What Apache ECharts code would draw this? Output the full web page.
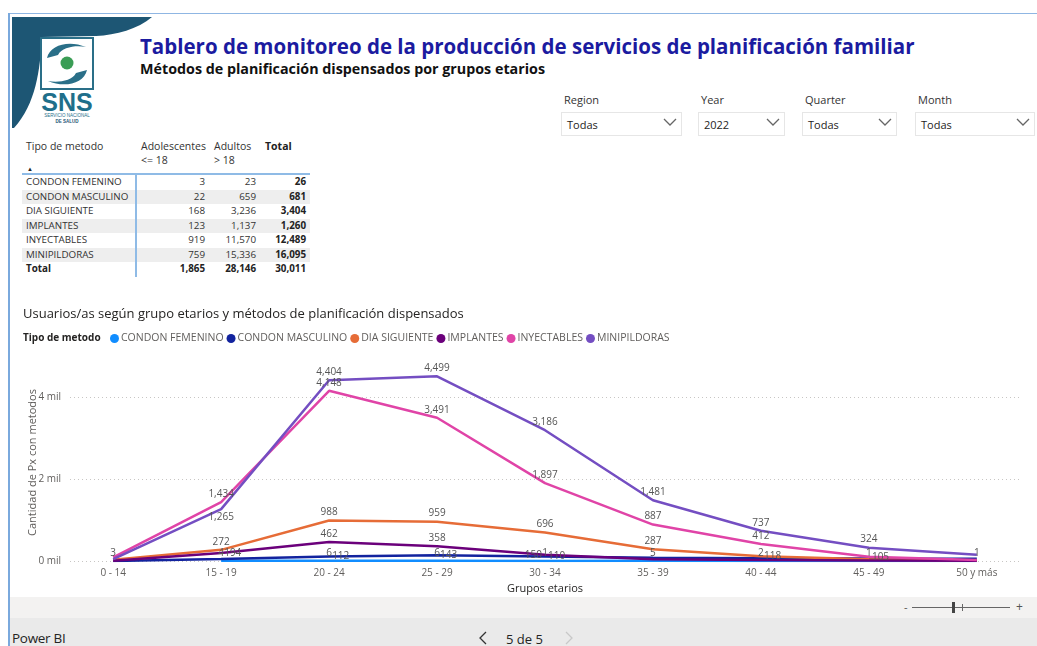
<!DOCTYPE html>
<html>
<head>
<meta charset="utf-8">
<script src="https://cdn.jsdelivr.net/npm/echarts@6/dist/echarts.min.js"></script>
<style>
  body { margin: 0; width: 1037px; height: 646px; position: relative; overflow: hidden; background: #fff; font-family: "Open Sans", sans-serif; color: #252423; }
  .abs { position: absolute; }
  #lineChart { position: absolute; left: 10px; top: 300px; width: 1027px; height: 297px; }
</style>
</head>
<body>
<!-- marco del reporte -->
<div class="abs" style="left:8px;top:13px;width:1029px;height:1px;background:#8fb6e3"></div>
<div class="abs" style="left:8px;top:13px;width:2px;height:633px;background:#7aa9dd"></div>
<div class="abs" style="left:10px;top:597px;width:1027px;height:21px;background:#f3f2f1"></div>
<div class="abs" style="left:10px;top:618px;width:1027px;height:28px;background:#eaeaea"></div>

<!-- logo SNS -->
<svg class="abs" style="left:0;top:0" width="160" height="135">
  <path d="M12 17 L152 17 C138 29 116 35 96 36 L42 37 C40 70 36 104 14 128 L12 128 Z" fill="#1d5674"/>
  <rect x="41" y="38" width="52" height="51" fill="#fff" stroke="#2a6f88" stroke-width="2"/>
  <path d="M47 58 C50 44 70 40 86 47 C76 45 62 47 58 55 Z" fill="#2a6f88"/>
  <path d="M87 70 C84 84 64 88 48 81 C58 83 72 81 76 73 Z" fill="#2a6f88"/>
  <circle cx="67" cy="63" r="6.5" fill="#3a9d55"/>
  <text x="67" y="111" text-anchor="middle" font-family="Liberation Sans" font-weight="bold" font-size="25" fill="#1f6f8b">SNS</text>
  <text x="67" y="117" text-anchor="middle" font-family="Liberation Sans" font-size="4.5" fill="#1f6f8b">SERVICIO NACIONAL</text>
  <text x="67" y="123" text-anchor="middle" font-family="Liberation Sans" font-weight="bold" font-size="4.5" fill="#1d5674">DE SALUD</text>
</svg>

<div id="lineChart"></div>

<script>
// grupos etarios (eje X)
const grupos = ["0 - 14", "15 - 19", "20 - 24", "25 - 29", "30 - 34", "35 - 39", "40 - 44", "45 - 49", "50 y más"];
const metodos = ["CONDON FEMENINO", "CONDON MASCULINO", "DIA SIGUIENTE", "IMPLANTES", "INYECTABLES", "MINIPILDORAS"];

// valores por grupo etario
const condonFemenino = [null, 4, 6, 6, 1, 5, 2, 1, 1];
const condonMasculino = [3, 50, 112, 143, 110, 80, 70, 60, 53];
const diaSiguiente = [30, 272, 988, 959, 696, 287, 118, 45, 9];
const implantes = [8, 194, 462, 358, 150, 45, 25, 13, 5];
const inyectables = [90, 1434, 4148, 3491, 1897, 887, 412, 105, 25];
const minipildoras = [45, 1265, 4404, 4499, 3186, 1481, 737, 324, 154];

// tabla resumen
const adolescentes = [3, 22, 168, 123, 919, 759];
const adultos = [23, 659, 3236, 1137, 11570, 15336];
const totales = [26, 681, 3404, 1260, 12489, 16095];
const filaTotal = [1865, 28146, 30011];

// eje Y
const yTicks = [0, 2000, 4000];

// filtros
const slicerLabels = ["Region", "Year", "Quarter", "Month"];
const slicerValues = ["Todas", "2022", "Todas", "Todas"];

const colores = ["#118DFF", "#12239E", "#E66C37", "#6B007B", "#E044A7", "#744EC2"];
// donde se muestra cada etiqueta (null = oculta, como hace Power BI)
const etiquetas = [
  [null, "top", "top", "top", "top", "top", "top", "top", "top"],
  ["top", null, "right", "right", "right", null, null, null, null],
  [null, "top", "top", "top", "top", "top", "right", null, null],
  [null, "right", "top", "top", "left", null, null, null, null],
  [null, "top", "top", "top", "top", "top", "top", "right", null],
  [null, "bottom", "top", "top", "top", "top", "top", "top", null]
];

const fmt = (n) => n.toLocaleString("en-US");

function put(text, x, y, css, alignRight) {
  const d = document.createElement("div");
  d.textContent = text;
  d.style.cssText = "position:absolute;white-space:nowrap;line-height:16px;top:" + (y - 8) + "px;" + (css || "");
  if (alignRight) d.style.right = (1037 - x) + "px";
  else d.style.left = x + "px";
  document.body.appendChild(d);
  return d;
}
function box(x, y, w, h, css) {
  const d = document.createElement("div");
  d.style.cssText = "position:absolute;left:" + x + "px;top:" + y + "px;width:" + w + "px;height:" + h + "px;" + (css || "");
  document.body.appendChild(d);
  return d;
}
function chevron(x, y, pts, color) {
  const ch = document.createElementNS("http://www.w3.org/2000/svg", "svg");
  ch.setAttribute("width", "14"); ch.setAttribute("height", "16");
  ch.style.cssText = "position:absolute;left:" + x + "px;top:" + y + "px";
  ch.innerHTML = '<polyline points="' + pts + '" fill="none" stroke="' + color + '" stroke-width="1.3"/>';
  document.body.appendChild(ch);
}

// titulos
put("Tablero de monitoreo de la producción de servicios de planificación familiar", 140, 46,
  "font-size:20.5px;font-weight:bold;color:#1b1ba0");
put("Métodos de planificación dispensados por grupos etarios", 140, 69,
  "font-size:14.3px;font-weight:bold;color:#111");

// filtros
const slicerX = [[561, 682], [698, 785], [802, 897], [915, 1035]];
slicerLabels.forEach((lab, i) => {
  const [x0, x1] = slicerX[i];
  put(lab, x0 + 3, 100, "font-size:11px;color:#333");
  box(x0, 112, x1 - x0, 24, "border:1px solid #e6e6e6;box-sizing:border-box");
  put(slicerValues[i], x0 + 6, 125, "font-size:11px;color:#252423");
  chevron(x1 - 19, 117, "1,2 7,8 13,2", "#666");
});

// tabla
const tcss = "font-size:9.8px;color:#333";
put("Tipo de metodo", 26, 146, "font-size:10.5px;color:#333");
put("Adolescentes", 141, 146, "font-size:10.5px;color:#333");
put("<= 18", 141, 160, "font-size:10.5px;color:#333");
put("Adultos", 214, 146, "font-size:10.5px;color:#333");
put("> 18", 214, 160, "font-size:10.5px;color:#333");
put("Total", 265, 146, "font-size:10.5px;font-weight:bold;color:#222");
put("▲", 27, 169, "font-size:6px;color:#222");
metodos.forEach((m, i) => {
  const y = 182 + i * 14.5;
  if (i % 2 === 1) box(22, y - 7, 288, 14, "background:#eeeeee");
  put(m, 26, y, tcss);
  put(fmt(adolescentes[i]), 205, y, tcss, true);
  put(fmt(adultos[i]), 256, y, tcss, true);
  put(fmt(totales[i]), 306, y, tcss + ";font-weight:bold;color:#222", true);
});
const yTot = 182 + 6 * 14.5;
put("Total", 26, yTot, tcss + ";font-weight:bold;color:#222");
put(fmt(filaTotal[0]), 205, yTot, tcss + ";font-weight:bold;color:#222", true);
put(fmt(filaTotal[1]), 256, yTot, tcss + ";font-weight:bold;color:#222", true);
put(fmt(filaTotal[2]), 306, yTot, tcss + ";font-weight:bold;color:#222", true);
box(22, 173, 288, 2, "background:#8fbbe6");
box(135, 175, 2, 102, "background:#8fbbe6");

// pie de pagina
put("-", 904, 607, "font-size:11px;color:#555");
box(912, 607, 98, 1, "background:#666");
box(952, 602, 3, 11, "background:#444");
box(962, 604, 1, 7, "background:#666");
put("+", 1016, 607, "font-size:12px;color:#555");
put("Power BI", 12, 638, "font-size:13.5px;color:#252423;letter-spacing:-0.3px");
chevron(477, 631, "9,1 3,7 9,13", "#333");
put("5 de 5", 506, 639, "font-size:13px;color:#252423");
chevron(563, 631, "3,1 9,7 3,13", "#c8c8c8");

// grafico de lineas
const seriesData = [condonFemenino, condonMasculino, diaSiguiente, implantes, inyectables, minipildoras];
const series = metodos.map((name, s) => ({
  name: name,
  type: "line",
  data: seriesData[s].map((v, i) => ({
    value: [i, v == null ? "-" : v],
    label: { show: v != null && etiquetas[s][i] != null, position: etiquetas[s][i] || "top" }
  })),
  showSymbol: true,
  symbol: "circle",
  symbolSize: 0.1,
  lineStyle: { width: 2.5, color: colores[s] },
  itemStyle: { color: colores[s] },
  label: {
    distance: 3,
    fontSize: 10,
    color: "#555",
    fontFamily: "Open Sans",
    formatter: (p) => fmt(p.value[1])
  },
  emphasis: { disabled: true },
  z: 2
}));

const myChart = echarts.init(document.getElementById("lineChart"));
const option = {
  textStyle: { fontFamily: "Open Sans" },
  animation: false,
  title: {
    text: "Usuarios/as según grupo etarios y métodos de planificación dispensados",
    left: 8,
    top: 3,
    textStyle: { fontSize: 13, fontWeight: "normal", color: "#252423", fontFamily: "Open Sans" }
  },
  graphic: [{
    type: "text",
    left: 13,
    top: 33,
    style: { text: "Tipo de metodo", font: "bold 10px 'Open Sans'", fill: "#252423" }
  }],
  legend: {
    left: 95,
    top: 28,
    icon: "circle",
    itemWidth: 9,
    itemHeight: 9,
    itemGap: 3,
    textStyle: { fontSize: 10.5, color: "#605E5C", padding: [0, 0, 0, -3] },
    data: metodos
  },
  grid: { left: 60, right: 17, top: 64, bottom: 36, outerBoundsMode: "none" },
  xAxis: {
    type: "value",
    min: -0.4,
    max: 8.4,
    name: "Grupos etarios",
    nameLocation: "middle",
    nameGap: 22,
    nameTextStyle: { fontSize: 11, color: "#252423" },
    axisLine: { show: false },
    axisTick: { show: false, customValues: grupos.map((g, i) => i) },
    splitLine: { show: false },
    axisLabel: {
      customValues: grupos.map((g, i) => i),
      formatter: (v) => grupos[v],
      fontSize: 10,
      color: "#605E5C",
      margin: 7
    }
  },
  yAxis: {
    type: "value",
    min: 0,
    max: 4800,
    name: "Cantidad de Px con metodos",
    nameLocation: "middle",
    nameGap: 32,
    nameMoveOverlap: false,
    nameTextStyle: { fontSize: 11, color: "#605E5C" },
    axisLine: { show: false },
    axisTick: { show: false, customValues: yTicks },
    axisLabel: {
      customValues: yTicks,
      formatter: (v) => v / 1000 + " mil",
      fontSize: 10,
      color: "#605E5C",
      margin: 9
    },
    splitLine: { lineStyle: { type: [1, 3], color: "#c8c6c4" } }
  },
  series: series
};
myChart.setOption(option);
</script>
</body>
</html>
